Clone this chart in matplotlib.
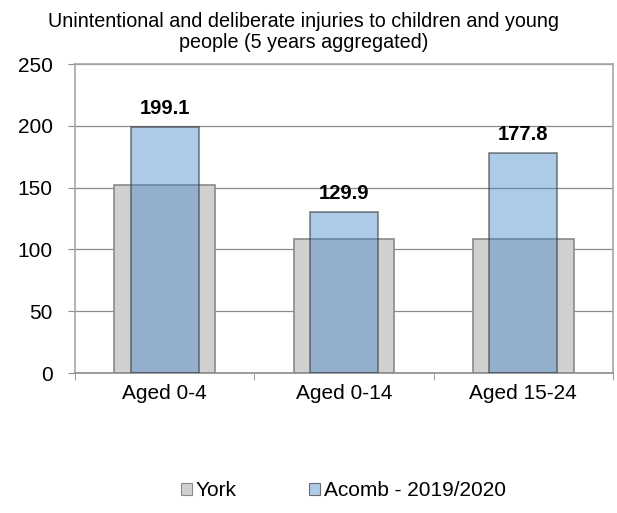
import matplotlib
matplotlib.use("Agg")
import matplotlib.pyplot as plt
from matplotlib.patches import Patch

categories = ["Aged 0-4", "Aged 0-14", "Aged 15-24"]
york = [152.0, 108.3, 108.5]
acomb = [199.1, 129.9, 177.8]
series_names = ["York", "Acomb - 2019/2020"]
title = "Unintentional and deliberate injuries to children and young\npeople (5 years aggregated)"

plt.rcParams['font.family'] = ['Liberation Sans', 'DejaVu Sans']

fig = plt.figure(figsize=(6.17, 5.13), dpi=100)
ax = fig.add_axes([0.1216, 0.2729, 0.8719, 0.6023])

x = list(range(len(categories)))
york_face = "#d0d0d0"
york_edge = "#8a8a8a"
acomb_face = (65/255, 133/255, 201/255, 0.43)
acomb_edge = (0.2, 0.2, 0.2, 0.6)

ax.bar(x, york, width=0.56, color=york_face, edgecolor=york_edge, linewidth=1.2, zorder=2)
ax.bar(x, acomb, width=0.38, color=acomb_face, edgecolor=acomb_edge, linewidth=1.2, zorder=3)

for xi, v in zip(x, acomb):
    ax.annotate(f"{v:.1f}", (xi, v), xytext=(0, 9.4), textcoords="offset points",
                ha="center", va="baseline", fontsize=14.5, fontweight="bold", zorder=4)

ax.set_xlim(-0.5, 2.5)
ax.set_ylim(0, 250)
ax.set_yticks([0, 50, 100, 150, 200, 250])
ax.yaxis.grid(True, color="#8c8c8c", linewidth=0.9, zorder=0)
ax.set_axisbelow(True)
ax.set_xticks(x)
ax.set_xticklabels(categories, fontsize=15)
ax.tick_params(axis='x', length=0, pad=8)
ax.tick_params(axis='y', length=5, color="#8c8c8c", labelsize=15, pad=11)
ax.set_xticks([-0.5, 0.5, 1.5, 2.5], minor=True)
ax.tick_params(axis='x', which='minor', length=5, color="#8c8c8c")
for s in ax.spines.values():
    s.set_color("#a6a6a6")
    s.set_linewidth(1.2)
ax.spines['bottom'].set_color("#8c8c8c")

fig.text(0.492, 0.938, title, fontsize=14.2, ha="center", va="center", linespacing=1.15)

handles = [Patch(facecolor=york_face, edgecolor=york_edge, linewidth=0.8),
           Patch(facecolor=(174/255, 203/255, 232/255), edgecolor="#6b6b6b", linewidth=0.8)]
fig.legend(handles, series_names, loc="center", bbox_to_anchor=(0.556, 0.043), ncol=2,
           frameon=False, fontsize=15, handlelength=0.55, handleheight=0.55,
           handletextpad=0.15, columnspacing=3.5)

fig.savefig("out.png", dpi=100)
